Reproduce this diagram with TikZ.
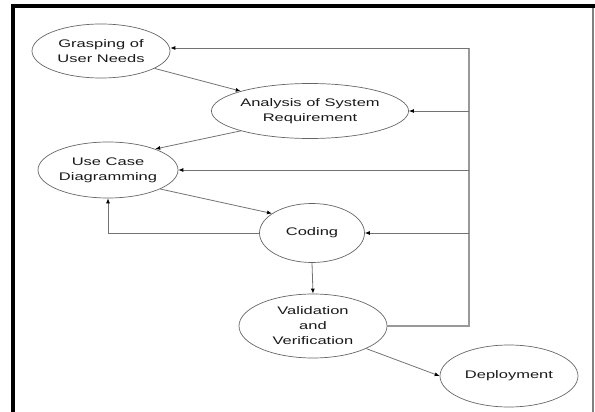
\documentclass[tikz,border=0pt]{standalone}
\usepackage{fontspec}
\newfontfamily\diagfont[FakeStretch=1.5]{Liberation Sans}
\usepackage{tikz}
\usetikzlibrary{shapes.geometric}
\usetikzlibrary{arrows.meta}

\begin{document}
\begin{tikzpicture}[x=1pt,y=-1pt,
        phase/.style={ellipse,draw=black!60,line width=0.7pt,inner sep=0pt,align=center,
            text=black!90,font=\diagfont\fontsize{11}{15}\selectfont},
        flow/.style={draw=black!55,line width=0.8pt,-{Latex[length=5pt,width=4pt,color=black]}},
        back/.style={draw=black!40,line width=1.2pt}]
            \useasboundingbox (0,0) rectangle (595,412);

            % Place the phases
            \node[phase,minimum width=138pt,minimum height=54pt] (grasp) at (101,51) {Grasping of\\User Needs};
            \node[phase,minimum width=184pt,minimum height=55pt] (anal) at (310,111) {Analysis of System\\Requirement};
            \node[phase,minimum width=140pt,minimum height=56pt] (ucase) at (108,170) {Use Case\\Diagramming};
            \node[phase,minimum width=105pt,minimum height=59pt] (coding) at (312,233) {Coding};
            \node[phase,minimum width=148pt,minimum height=64pt] (valid) at (313,326) {Validation\\and\\Verification};
            \node[phase,minimum width=138pt,minimum height=62pt] (deploy) at (509,376) {Deployment};

            % The feedback corners
            \coordinate (fbb) at (469,326);
            \coordinate (fbt) at (469,48);

            % The lines!
            \draw[flow] (grasp.-18) -- (anal.164);
            \draw[flow] (anal.196) -- (ucase.24);
            \draw[flow] (ucase.-20) -- (coding.154);
            \draw[flow] (coding.south) -- (valid.north);
            \draw[flow] (valid.-23) -- (deploy.west);
            \draw[flow] (coding.west) -| (ucase.south);

            % Back to every earlier phase
            \draw[back] (valid.east) -- (fbb) -- (fbt);
            \draw[flow] (fbt) -- (grasp.east |- fbt);
            \draw[flow] (fbt |- anal.east) -- (anal.east);
            \draw[flow] (fbt |- ucase.east) -- (ucase.east);
            \draw[flow] (fbt |- coding.east) -- (coding.east);

            % The frame
            \draw[line width=4pt] (13,412) -- (13,6) -- (595,6);
            \draw[black!50,line width=1.5pt] (593,8) -- (593,412);
        \end{tikzpicture}
\end{document}
